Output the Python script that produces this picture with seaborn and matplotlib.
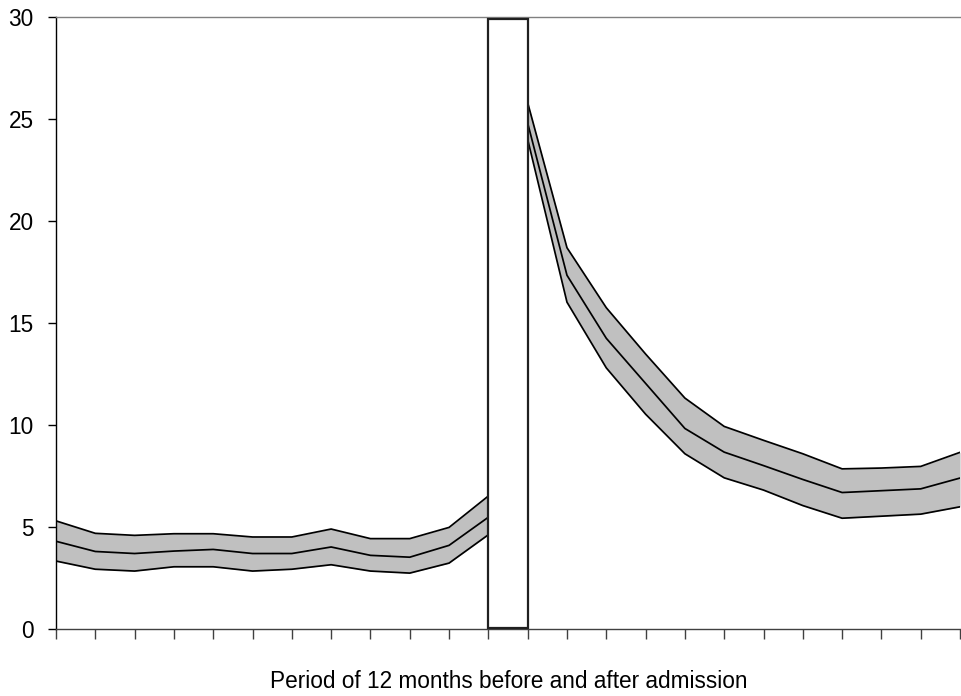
import matplotlib
matplotlib.use("Agg")
import matplotlib.pyplot as plt
import seaborn as sns
import numpy as np
import pandas as pd

# ---- data ----
months_before = list(range(0, 12))
months_after = list(range(12, 24))
before_upper = [5.30, 4.69, 4.59, 4.67, 4.67, 4.51, 4.51, 4.90, 4.43, 4.43, 4.98, 6.52]
before_mid = [4.30, 3.80, 3.70, 3.82, 3.90, 3.70, 3.70, 4.02, 3.61, 3.52, 4.10, 5.48]
before_lower = [3.33, 2.93, 2.84, 3.05, 3.05, 2.84, 2.93, 3.15, 2.84, 2.74, 3.23, 4.62]
after_upper = [25.8, 18.69, 15.75, 13.48, 11.32, 9.93, 9.25, 8.59, 7.85, 7.89, 7.97, 8.66]
after_mid = [24.8, 17.34, 14.25, 12.04, 9.83, 8.67, 8.01, 7.33, 6.69, 6.78, 6.87, 7.40]
after_lower = [24.0, 16.02, 12.80, 10.53, 8.59, 7.41, 6.81, 6.05, 5.43, 5.53, 5.63, 5.99]
admission_center = [11.5]
admission_bottom = [0.05]
admission_height = [29.85]
y_ticks = [0, 5, 10, 15, 20, 25, 30]
x_label = "Period of 12 months before and after admission"

sns.set_theme(style="white")
plt.rcParams['font.family'] = ['Liberation Sans', 'DejaVu Sans']
plt.rcParams['text.color'] = 'black'

fig = plt.figure(figsize=(9.61, 6.96), dpi=100)
ax = fig.add_axes([56 / 961, (696 - 629) / 696, 1 - 56 / 961 - 0.001, (629 - 17) / 696])

band_col = "#c0c0c0"
for xs, up, md, lo in [(months_before, before_upper, before_mid, before_lower),
                       (months_after, after_upper, after_mid, after_lower)]:
    ax.fill_between(xs, lo, up, color=band_col, linewidth=0, zorder=1)
    df = pd.DataFrame({"x": xs, "upper": up, "mid": md, "lower": lo})
    for col in ["upper", "mid", "lower"]:
        sns.lineplot(data=df, x="x", y=col, ax=ax, color="black", linewidth=1.25,
                     zorder=2, estimator=None)

ax.bar(admission_center, admission_height, width=1.0, bottom=admission_bottom,
       color="white", edgecolor="#202020", linewidth=1.6, zorder=3)

ax.set_xlim(0, 23)
ax.set_ylim(0, 30)
ax.set_xticks(range(0, 24))
ax.set_xticklabels([])
ax.set_yticks(y_ticks)
ax.set_yticklabels([str(v) for v in y_ticks], fontsize=16.3, color="black")
ax.set_ylabel("")
ax.set_xlabel("")
fig.text((56 + 961) / 2 / 961, 1 - 681 / 696, x_label, fontsize=16.3,
         ha="center", va="center", color="black")

ax.tick_params(axis="x", direction="out", length=7.5, width=1.0, color="#404040", bottom=True)
ax.tick_params(axis="y", direction="out", length=6, width=1.0, color="black", left=True,
               pad=10, labelcolor="black")

for s in ["left", "bottom"]:
    ax.spines[s].set_color("black")
    ax.spines[s].set_linewidth(1.0)
ax.spines["bottom"].set_color("#404040")
ax.spines["top"].set_color("#808080")
ax.spines["top"].set_linewidth(1.0)
ax.spines["right"].set_visible(False)

fig.savefig("out.png", dpi=100)
